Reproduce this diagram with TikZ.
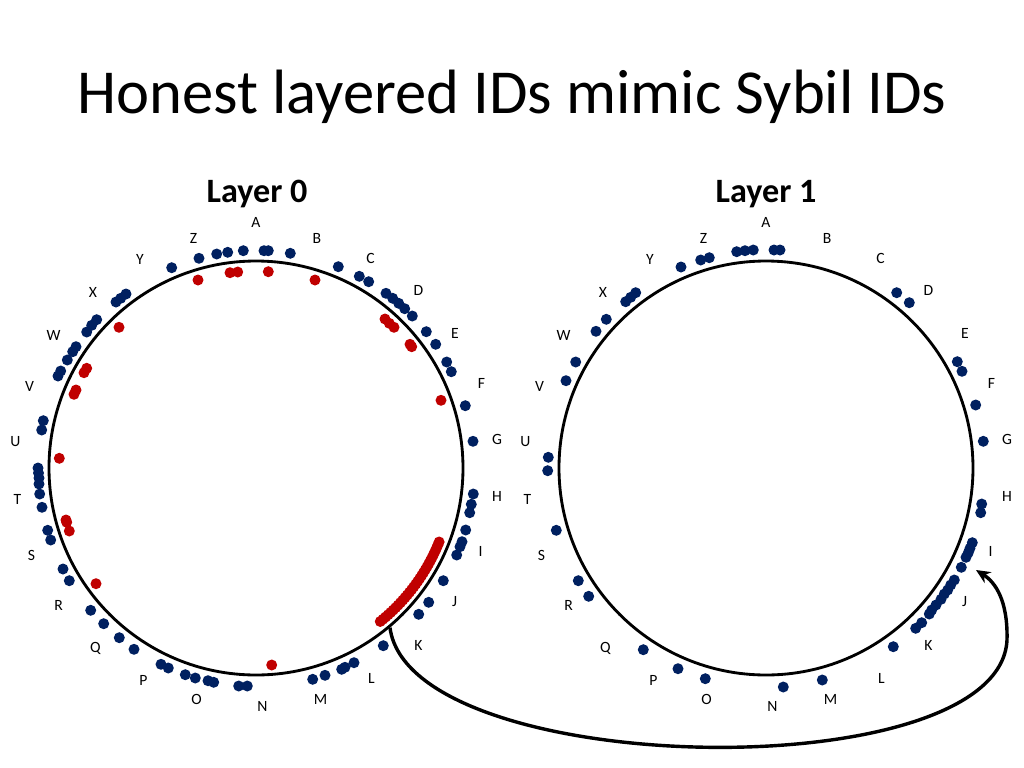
\documentclass[tikz,border=0pt]{standalone}
\usepackage{fontspec}
\setmainfont{Carlito}
\usetikzlibrary{arrows.meta}
\definecolor{idblue}{HTML}{002060}
\definecolor{idred}{HTML}{C00000}
\tikzset{
	ring/.style={circle, draw, line width=2pt, inner sep=0pt, minimum size=291pt},
	letter/.style={font=\fontsize{11}{13}\selectfont},
	layer/.style={font=\bfseries\fontsize{24}{28}\selectfont},
}
\begin{document}
\begin{tikzpicture}[x=0.7029pt, y=-0.7029pt]
	\useasboundingbox (0,0) rectangle (1024,768);
	\node at (512,97) (title) {\fontsize{44}{52}\selectfont Honest layered IDs mimic Sybil IDs};
	\node[layer] at (257,194) (layer0) {Layer 0};
	\node[layer] at (766,194) (layer1) {Layer 1};
	\node[ring] at (256,468) (ring0) {};
	\node[ring] at (766,468) (ring1) {};
	% letters round both rings
	\foreach \l/\x/\y in {A/256/222,B/317/238,C/370.5/258,D/418.5/290.5,E/455/333,F/481.5/383.5,
		G/497/439.5,H/497/496,I/480.5/551,J/454.5/602,K/418.5/645.5,L/371.5/678.5,
		M/320.5/699,N/262.5/706,O/196.5/699,P/143.5/680,Q/95.5/648,R/58.5/605,
		S/31.5/555,T/17.5/499,U/15.5/442,V/29.5/386.5,W/53.5/335.5,X/93/292.5,
		Y/140/259.5,Z/193.5/238.5} {
		\node[letter] at (\x,\y) (\l0) {\l};
		\node[letter] at (\x+510,\y) (\l1) {\l};
	}
	% layer 0 ids
	\foreach \p in {(171.7,267.7),(199,258.3),(216.7,254),(227.7,252.3),(243.3,250.7),
		(264,250.7),(268.3,250.7),(290.3,253.3),(338.3,266.7),(359.3,276.3),(368.7,281.7),
		(386,293.3),(392.7,298.3),(398.7,303.3),(404.7,308.7),(412.3,316),(426.3,331.7),
		(435.7,344.3),(446.7,362),(451.3,371.7),(465.3,405.7),(473,441.3),
		(473.3,494),(471.3,504.3),(469.7,512.7),(465.7,530),(462,541.7),(460,546.7),(456.7,555),
		(443.3,580.7),(428.7,602.3),(418.7,614.3),(383.3,645.7),(354,662.7),(345,667.3),
		(341.7,669.3),(325,675.3),(312.7,679.3),(247.3,686),(238.7,686),(213.7,682.3),
		(208,680.7),(195.3,678),(185.3,674.7),(168.3,668),(161,664.3),(134,649.3),
		(119.3,637.7),(103.7,623.7),(90.7,610.3),(69.3,580.7),(63,569),(50.7,540),
		(47.7,530.3),(42,507.3),(39.7,494),(39,484),(39,478),(38.5,473),(38,468),
		(41.7,430),(43.3,420.7),(58,376),(60.7,371),(67.3,360),(72.7,351.7),(76,346.7),
		(86.7,332),(91.7,325.3),(96.7,319.7),(116,302),(120.7,298.3),(126,294)}
		\fill[idblue] \p circle (5.5);
	\foreach \p in {(198,280),(230,272.7),(237.7,272),(268.3,271.7),(315,280),(385,319),
		(389.3,323.3),(394,327.3),(410,344.3),(411.7,346.7),(441,400.3),(271.7,665),
		(96,583.7),(66,520),(66.7,522.3),(69.3,531),(59.3,458.3),(76,390),(74,394.3),
		(86.7,368.3),(84,372.7),(119,327.3)}
		\fill[idred] \p circle (5.5);
	\foreach \a in {-22,-23,...,-51}
		\fill[idred] ({256+197.5*cos(\a)},{468-197.5*sin(\a)}) circle (5.5);
	% layer 1 ids
	\foreach \p in {(681,267),(700.7,260),(709.3,257.7),(736.7,251.7),(745,250.7),(753.3,250),
		(774,250),(780,250),(896.7,292.7),(909.3,302.7),(957.3,361.7),(962,371.3),
		(975.7,405),(983.3,441.3),(981.7,504),(980.7,512.7),(972.3,542.7),(970,548.3),
		(968.3,552.7),(966,557.3),(961.3,567.3),(954.3,580),(950.7,585),(947.7,590),
		(944.3,594),(941,599.3),(936,605),(931.7,610),(929.3,614),(921.7,622.7),
		(915.7,628.3),(893.3,646.7),(822.3,680),(783.3,687),(705.3,678.7),(678,668.7),
		(643.3,649.7),(588.7,596.3),(578.3,580.7),(556.3,530.3),(547.7,470.7),
		(548.3,457.3),(566,380.7),(575.7,362),(596,331.3),(606.3,319.3),(625.7,301.7),
		(630.7,297.3),(635.7,292.7)}
		\fill[idblue] \p circle (5.5);
	\coordinate (copy) at (976,570);
	\draw[line width=2.4pt, -{Stealth[length=10pt,width=9pt]}] (ring0.-50)
		.. controls (410,780) and (1000,790) .. (1007,640)
		.. controls (1008,600) and (995,582) .. (copy);
\end{tikzpicture}
\end{document}
